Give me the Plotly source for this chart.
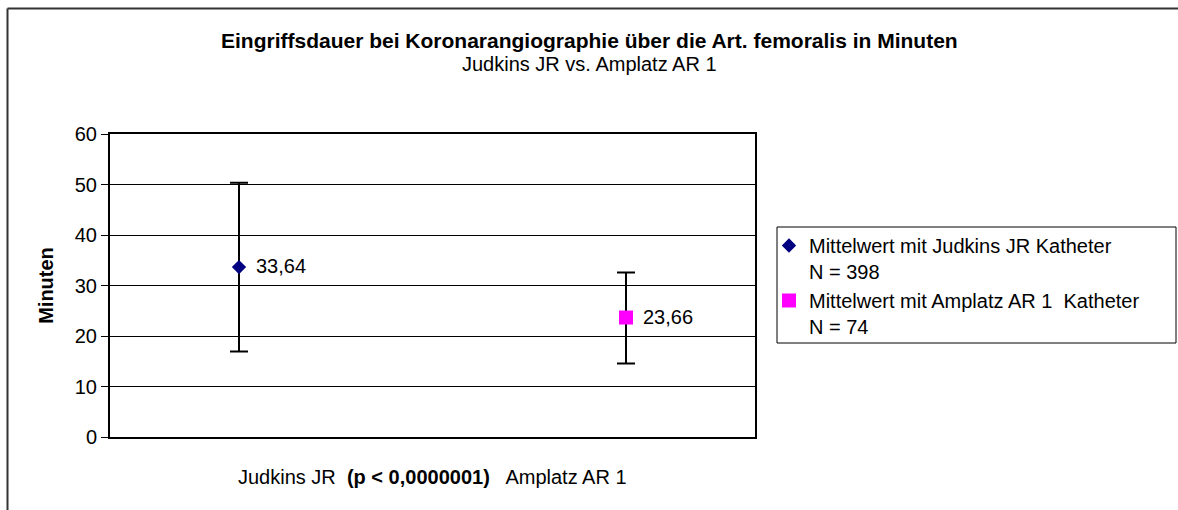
import plotly.graph_objects as go

# Mean procedure duration (minutes) with standard deviation per catheter type
series_names = [
    "Mittelwert mit Judkins JR Katheter<br>N = 398",
    "Mittelwert mit Amplatz AR 1  Katheter<br>N = 74",
]
x_pos = [1, 2]
means = [33.64, 23.66]
sd_plus = [16.7, 8.9]
sd_minus = [16.7, 9.1]
marker_symbols = ["diamond", "square"]
marker_colors = ["#000080", "#FF00FF"]
marker_sizes = [11, 14]
y_ticks = [0, 10, 20, 30, 40, 50, 60]

W, H = 1178, 510
L, R, T, B = 110, 755, 134, 437
FONT = "Liberation Sans, Arial"
FS = 20


def px(xp):
    return (xp - L) / (R - L)


def py(yp):
    return (B - yp) / (B - T)


fig = go.Figure()
for i in range(2):
    fig.add_trace(go.Scatter(
        x=[x_pos[i]], y=[means[i]],
        mode="markers",
        name=series_names[i],
        marker=dict(symbol=marker_symbols[i], color=marker_colors[i],
                    size=marker_sizes[i], line=dict(width=0)),
        error_y=dict(type="data", symmetric=False,
                     array=[sd_plus[i]], arrayminus=[sd_minus[i]],
                     color="#000", thickness=2, width=9),
        hoverinfo="skip",
    ))

# value labels beside each mean
annotations = [
    dict(text=f"{means[i]:.2f}".replace(".", ","), xref="x", yref="y",
         x=x_pos[i], y=means[i], xanchor="left", yanchor="middle",
         xshift=15, yshift=1, showarrow=False, font=dict(size=FS))
    for i in range(2)
]
annotations += [
    dict(text="<b>Eingriffsdauer bei Koronarangiographie über die Art. femoralis in Minuten</b>",
         xref="paper", yref="paper", x=px(W / 2), y=py(40),
         xanchor="center", yanchor="middle", showarrow=False, font=dict(size=21)),
    dict(text="Judkins JR vs. Amplatz AR 1",
         xref="paper", yref="paper", x=px(W / 2), y=py(64),
         xanchor="center", yanchor="middle", showarrow=False, font=dict(size=FS)),
    dict(text="Judkins JR&nbsp;&nbsp;<b>(p &lt; 0,0000001)</b>&nbsp;&nbsp; Amplatz AR 1",
         xref="paper", yref="paper", x=0.5, y=py(477),
         xanchor="center", yanchor="middle", showarrow=False, font=dict(size=FS)),
]

fig.update_layout(
    width=W, height=H,
    margin=dict(l=L, r=W - R, t=T, b=H - B, pad=0),
    paper_bgcolor="white", plot_bgcolor="white",
    font=dict(family=FONT, size=FS, color="#000"),
    showlegend=True,
    legend=dict(
        x=px(769), xanchor="left",
        y=py(226), yanchor="top",
        borderwidth=0, bgcolor="rgba(0,0,0,0)",
        font=dict(size=FS), valign="top", itemwidth=30,
    ),
    xaxis=dict(
        range=[2 / 3, 7 / 3], showticklabels=False, ticks="",
        showgrid=False, zeroline=False,
        showline=True, linecolor="#000", linewidth=2, mirror=True,
    ),
    yaxis=dict(
        range=[0, 60], tickvals=y_ticks, ticks="outside", ticklen=7,
        tickcolor="#000", tickwidth=1,
        showgrid=True, gridcolor="#000", gridwidth=1, zeroline=False,
        showline=True, linecolor="#000", linewidth=2, mirror=True,
        tickfont=dict(size=FS),
        title=dict(text="<b>Minuten</b>", font=dict(size=FS), standoff=16),
    ),
    annotations=annotations,
    shapes=[
        # legend frame
        dict(type="rect", xref="paper", yref="paper",
             x0=px(777), x1=px(1176), y0=py(227), y1=py(343),
             line=dict(color="#000", width=1), fillcolor="rgba(0,0,0,0)", layer="below"),
        # outer chart frame (left and top edges)
        dict(type="line", xref="paper", yref="paper",
             x0=px(7.5), x1=px(7.5), y0=py(8.5), y1=py(520),
             line=dict(color="#333", width=2)),
        dict(type="line", xref="paper", yref="paper",
             x0=px(7.5), x1=px(1190), y0=py(8.5), y1=py(8.5),
             line=dict(color="#333", width=2)),
    ],
)

fig.write_html("out.html")
